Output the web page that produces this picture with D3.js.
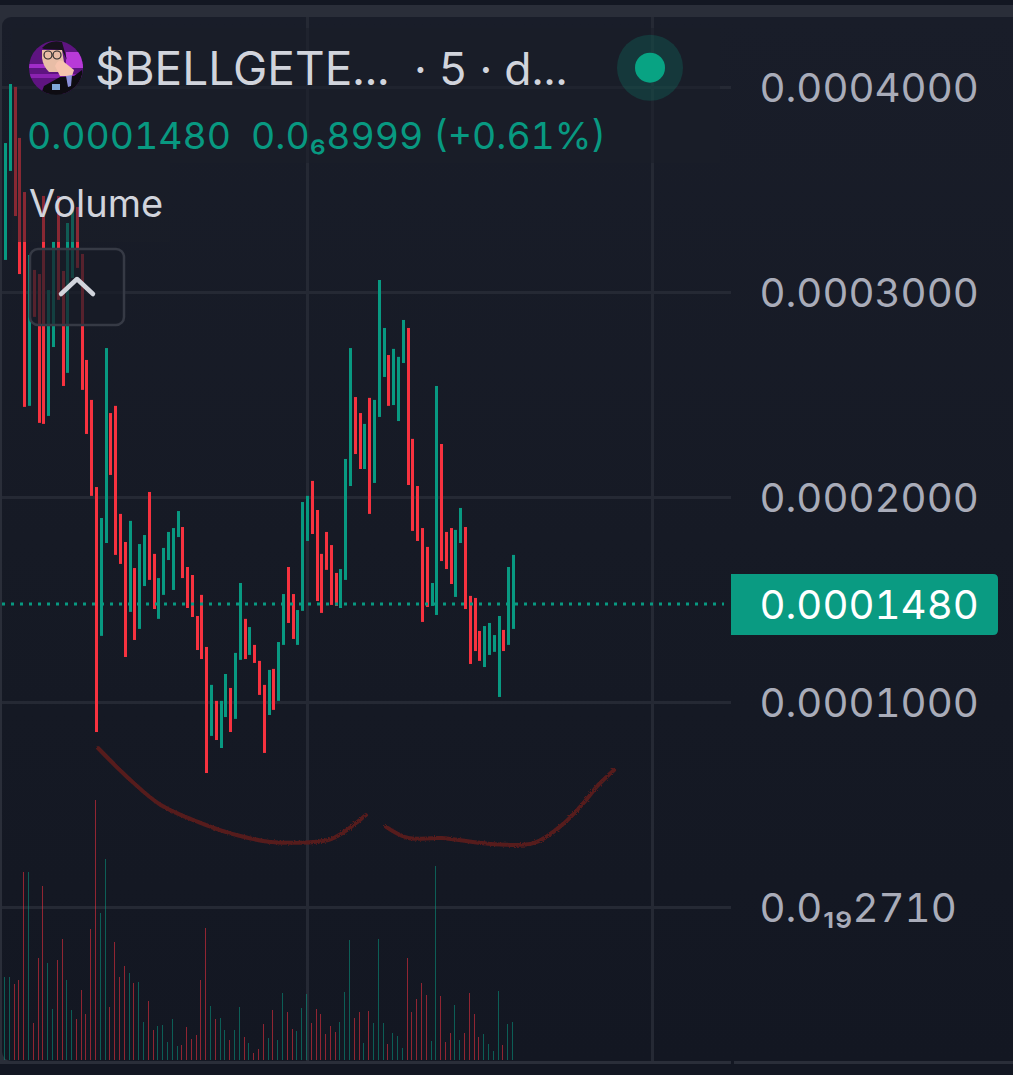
<!DOCTYPE html>
<html>
<head>
<meta charset="utf-8">
<style>
  html, body { margin: 0; padding: 0; background: #131722; overflow: hidden; }
  svg { display: block; }
  text { font-family: Inter, Roboto, sans-serif; white-space: pre; font-variant-numeric: tabular-nums; font-feature-settings: "tnum"; }
</style>
<script src="https://cdn.jsdelivr.net/npm/d3@7"></script>
</head>
<body>
<div id="chart"></div>
<script>
// prices are in units of 1e-7
const bodyHigh = [3729,4017,4003,3754,3490,3183,3110,3090,3471,3012,3247,3471,3105,3339,3427,3417,3188,2671,2476,2051,
  1900,2729,2412,2447,1920,1783,1886,1656,1773,1817,2027,1725,1607,1754,1832,1851,1934,1856,1661,1622,
  1422,1525,1271,1086,1008,1008,1139,1071,1242,1583,1408,1368,1281,1203,1086,1159,1164,1295,1529,1661,
  1529,1451,1978,2008,2081,1939,1725,1832,1768,1632,1651,2188,2729,2490,2412,2359,2486,2476,3061,2827,
  2695,2725,2686,2866,2827,2286,2056,1851,1759,1583,2544,2261,1832,1851,1842,1949,1856,1520,1510,1349,
  1373,1388,1329,1422,1354,1661,1720];
const bodyLow = [3159,3593,3373,3090,2442,2447,2881,2364,2359,2398,2734,2964,2544,2608,3071,3120,2525,2310,2008,856,
  1325,1778,2110,1720,1676,1222,1442,1305,1359,1568,1598,1456,1408,1525,1695,1549,1807,1607,1461,1417,
  1256,1212,656,837,817,778,929,856,920,1208,1212,1232,1193,1037,754,939,964,1008,1281,1388,
  1310,1281,1447,1788,1822,1495,1437,1647,1476,1471,1461,1598,2056,2212,2139,2139,1920,2071,2393,2588,
  2447,2451,2373,2656,2061,1837,1788,1393,1466,1471,1427,1690,1651,1578,1515,1778,1456,1188,1251,1203,
  1173,1232,1247,1027,1251,1281,1359];
const volumes = [83,83,76,80,188,188,37,102,174,97,51,100,121,80,50,41,70,46,131,260,
  147,201,53,118,83,94,87,77,78,38,59,30,34,35,18,41,14,15,33,21,
  25,80,132,54,41,42,30,20,30,53,23,17,7,11,36,22,50,20,67,48,
  31,29,52,66,37,51,46,26,34,28,38,68,120,42,48,17,49,37,121,37,
  16,27,24,12,102,48,61,77,65,19,194,64,18,27,55,20,27,67,46,23,
  26,16,9,69,15,36,38];
const upCandles = [0,1,5,9,10,13,14,20,21,26,28,29,32,33,34,35,36,43,45,46,48,49,51,55,57,58,61,62,63,70,71,72,75,77,78,79,81,82,83,89,90,94,95,100,101,102,103,105,106];

const priceTicks = [4000, 3000, 2000, 1000, 2.71e-9];
const priceTickLabels = ["0.0004000", "0.0003000", "0.0002000", "0.0001000", "0.0₁₉2710"];
const timeGrid = [63, 135];
const lastPrice = 1480;

const titleName = "$BELLGETE...";
const titleRest = "· 5 · d...";
const lastText = "0.0001480  0.0₆8999 (+0.61%)";
const volumeTitle = "Volume";

// hand drawn smile under the bars, [candle index, price]
const scribbleLeft = [[19.3,778],[25.6,632],[32.4,500],[40.8,412],[48.1,354],[55.4,320],[67.3,329],[70.6,368],[75.2,451]];
const scribbleRight = [[79.4,393],[84,339],[90.9,339],[101.3,310],[110.3,315],[116.6,412],[120.8,515],[123.7,598],[127,671]];

const width = 1013, height = 1075;
const green = "#089981", red = "#f7323f", gridColor = "#252934", textColor = "#d1d4dc";
const paneRight = 731;

const x = d3.scaleLinear().domain([0, 106]).range([5.5, 513.5]);
const y = d3.scaleLinear().domain([0, 4000]).range([907.5, 87.5]);
const v = d3.scaleLinear().domain([0, 260]).range([1060, 800]);

const candles = bodyHigh.map((d, i) => ({
  i, high: d, low: bodyLow[i], vol: volumes[i], up: upCandles.includes(i)
}));

const svg = d3.select("#chart").append("svg")
    .attr("width", width)
    .attr("height", height);

const defs = svg.append("defs");
const bg = defs.append("linearGradient").attr("id", "bg")
    .attr("x1", 0).attr("x2", 0).attr("y1", 0).attr("y2", 1);
bg.append("stop").attr("offset", 0).attr("stop-color", "#191d29");
bg.append("stop").attr("offset", 0.5).attr("stop-color", "#161a25");
bg.append("stop").attr("offset", 1).attr("stop-color", "#131722");

const rough = defs.append("filter").attr("id", "rough")
    .attr("x", "-5%").attr("y", "-20%").attr("width", "110%").attr("height", "140%");
rough.append("feTurbulence").attr("type", "fractalNoise").attr("baseFrequency", 0.7).attr("numOctaves", 2).attr("seed", 4);
rough.append("feDisplacementMap").attr("in", "SourceGraphic").attr("scale", 3);

defs.append("clipPath").attr("id", "avatarClip")
  .append("circle").attr("cx", 56).attr("cy", 67.7).attr("r", 27);

// frame
svg.append("rect").attr("width", width).attr("height", height).attr("fill", "#131722");
svg.append("rect").attr("y", 5).attr("width", width).attr("height", 1059).attr("fill", "#2a2e39");
svg.append("rect").attr("x", 2).attr("y", 17).attr("width", width + 20).attr("height", 1044).attr("rx", 9)
    .attr("fill", "url(#bg)");
svg.append("rect").attr("y", 1064).attr("width", width).attr("height", 11).attr("fill", "#131722");
svg.append("rect").attr("x", paneRight).attr("y", 1061).attr("width", 3).attr("height", 3).attr("fill", "#131722");

// grid
svg.append("g").selectAll("rect")
  .data(priceTicks)
  .join("rect")
    .attr("x", 2)
    .attr("y", d => Math.round(y(d) - 1.5))
    .attr("width", paneRight - 2)
    .attr("height", 3)
    .attr("fill", gridColor);
svg.append("g").selectAll("rect")
  .data(timeGrid)
  .join("rect")
    .attr("x", d => Math.round(x(d)) - 1)
    .attr("y", 17)
    .attr("width", 3)
    .attr("height", 1044)
    .attr("fill", gridColor);

// volume bars
svg.append("g").selectAll("rect")
  .data(candles)
  .join("rect")
    .attr("x", d => Math.round(x(d.i) - 1.5))
    .attr("y", d => v(d.vol))
    .attr("width", 1)
    .attr("height", d => v(0) - v(d.vol))
    .attr("fill", d => d.up ? green : red)
    .attr("opacity", 0.55);

// candle bodies
svg.append("g").selectAll("rect")
  .data(candles)
  .join("rect")
    .attr("x", d => Math.round(x(d.i) - 1.5))
    .attr("y", d => y(d.high))
    .attr("width", 3)
    .attr("height", d => y(d.low) - y(d.high))
    .attr("fill", d => d.up ? green : red);

// scribble
const scribble = d3.line().x(d => x(d[0])).y(d => y(d[1])).curve(d3.curveCatmullRom);
svg.append("g").selectAll("path")
  .data([scribbleLeft, scribbleRight])
  .join("path")
    .attr("d", scribble)
    .attr("fill", "none")
    .attr("stroke", "#561b1d")
    .attr("stroke-width", 4)
    .attr("stroke-linecap", "round")
    .attr("filter", "url(#rough)");

// last price dotted line
svg.append("line")
    .attr("x1", 2).attr("x2", 724)
    .attr("y1", y(lastPrice)).attr("y2", y(lastPrice))
    .attr("stroke", green)
    .attr("stroke-width", 3)
    .attr("stroke-dasharray", "3 6");

// legend backdrop dims what is under it
svg.append("rect").attr("x", 12).attr("y", 28).attr("width", 708).attr("height", 135)
    .attr("fill", "#191d28").attr("opacity", 0.5);
svg.append("rect").attr("x", 12).attr("y", 163).attr("width", 158).attr("height", 79)
    .attr("fill", "#191d28").attr("opacity", 0.5);

// avatar
const avatar = svg.append("g").attr("clip-path", "url(#avatarClip)");
avatar.append("rect").attr("x", 29).attr("y", 40).attr("width", 54).attr("height", 54).attr("fill", "#5e1480");
avatar.append("rect").attr("x", 29).attr("y", 64).attr("width", 54).attr("height", 4).attr("fill", "#a02cc8");
avatar.append("rect").attr("x", 29).attr("y", 74).attr("width", 54).attr("height", 4).attr("fill", "#8a22b0");
avatar.append("rect").attr("x", 66).attr("y", 52).attr("width", 17).attr("height", 16).attr("fill", "#b83ad8");
avatar.append("path").attr("d", "M40 97 L44 86 L60 77 L74 76 L82 70 L86 97 Z").attr("fill", "#0e0c12");
avatar.append("path").attr("d", "M42 48 Q50 39 62 42 L67 60 L62 50 L44 49 Z").attr("fill", "#17121c");
avatar.append("path").attr("d", "M42 50 L62 50 L64 62 L60 72 L49 72 Q43 66 42 58 Z").attr("fill", "#e8bda6");
avatar.append("path").attr("d", "M55 66 Q58 58 64 62 L74 70 L72 76 L60 76 Z").attr("fill", "#f6c4ae");
avatar.append("path").attr("d", "M66 76 L72 75 L71 86 L68 87 Z").attr("fill", "#8b8fd8");
avatar.append("rect").attr("x", 52).attr("y", 84).attr("width", 8).attr("height", 6).attr("fill", "#7fa8d8");
avatar.selectAll("circle.glass")
  .data([48, 57])
  .join("circle")
    .attr("class", "glass")
    .attr("cx", d => d).attr("cy", 55).attr("r", 4)
    .attr("fill", "none").attr("stroke", "#2a2a2a").attr("stroke-width", 1.2);

// legend text
const title = svg.append("text").attr("y", 85).attr("fill", textColor);
title.append("tspan").attr("x", 95).attr("font-size", 46).text(titleName);
title.append("tspan").attr("x", 414).attr("font-size", 44.5).text(titleRest);
svg.append("text").attr("x", 27).attr("y", 148.5)
    .attr("font-size", 37.4).attr("fill", green).text(lastText);
svg.append("text").attr("x", 29).attr("y", 217)
    .attr("font-size", 38).attr("fill", textColor).text(volumeTitle);

// collapse button
svg.append("rect").attr("x", 30).attr("y", 249).attr("width", 94).attr("height", 76).attr("rx", 8)
    .attr("fill", "#181c27").attr("fill-opacity", 0.72)
    .attr("stroke", "#363a45").attr("stroke-width", 2.5);
svg.append("path").attr("d", "M61 294 L77 279 L93 294")
    .attr("fill", "none").attr("stroke", textColor).attr("stroke-width", 4.5)
    .attr("stroke-linecap", "round").attr("stroke-linejoin", "round");

// live dot
svg.append("circle").attr("cx", 650).attr("cy", 67.7).attr("r", 33).attr("fill", green).attr("opacity", 0.22);
svg.append("circle").attr("cx", 650).attr("cy", 67.7).attr("r", 15).attr("fill", "#08a383");

// price axis
const axis = d3.axisRight(y)
    .tickValues(priceTicks)
    .tickSize(0)
    .tickPadding(0)
    .tickFormat((d, i) => priceTickLabels[i]);
const axisG = svg.append("g").attr("transform", "translate(759.5,0)").call(axis);
axisG.select(".domain").remove();
axisG.selectAll("text")
    .attr("x", 0)
    .attr("dy", "0.36em")
    .attr("fill", "#a9acb9")
    .attr("font-size", 40.2)
    .attr("font-family", "Inter, Roboto, sans-serif");

// last price tag
const tag = svg.append("g");
tag.append("path")
    .attr("d", `M${paneRight} 574 H993 Q998 574 998 579 V630 Q998 635 993 635 H${paneRight} Z`)
    .attr("fill", "#0a9b82");
tag.append("text").attr("x", 759.5).attr("y", y(lastPrice)).attr("dy", "0.36em")
    .attr("font-size", 40.2).attr("fill", "#fff").text("0.0001480");
</script>
</body>
</html>
